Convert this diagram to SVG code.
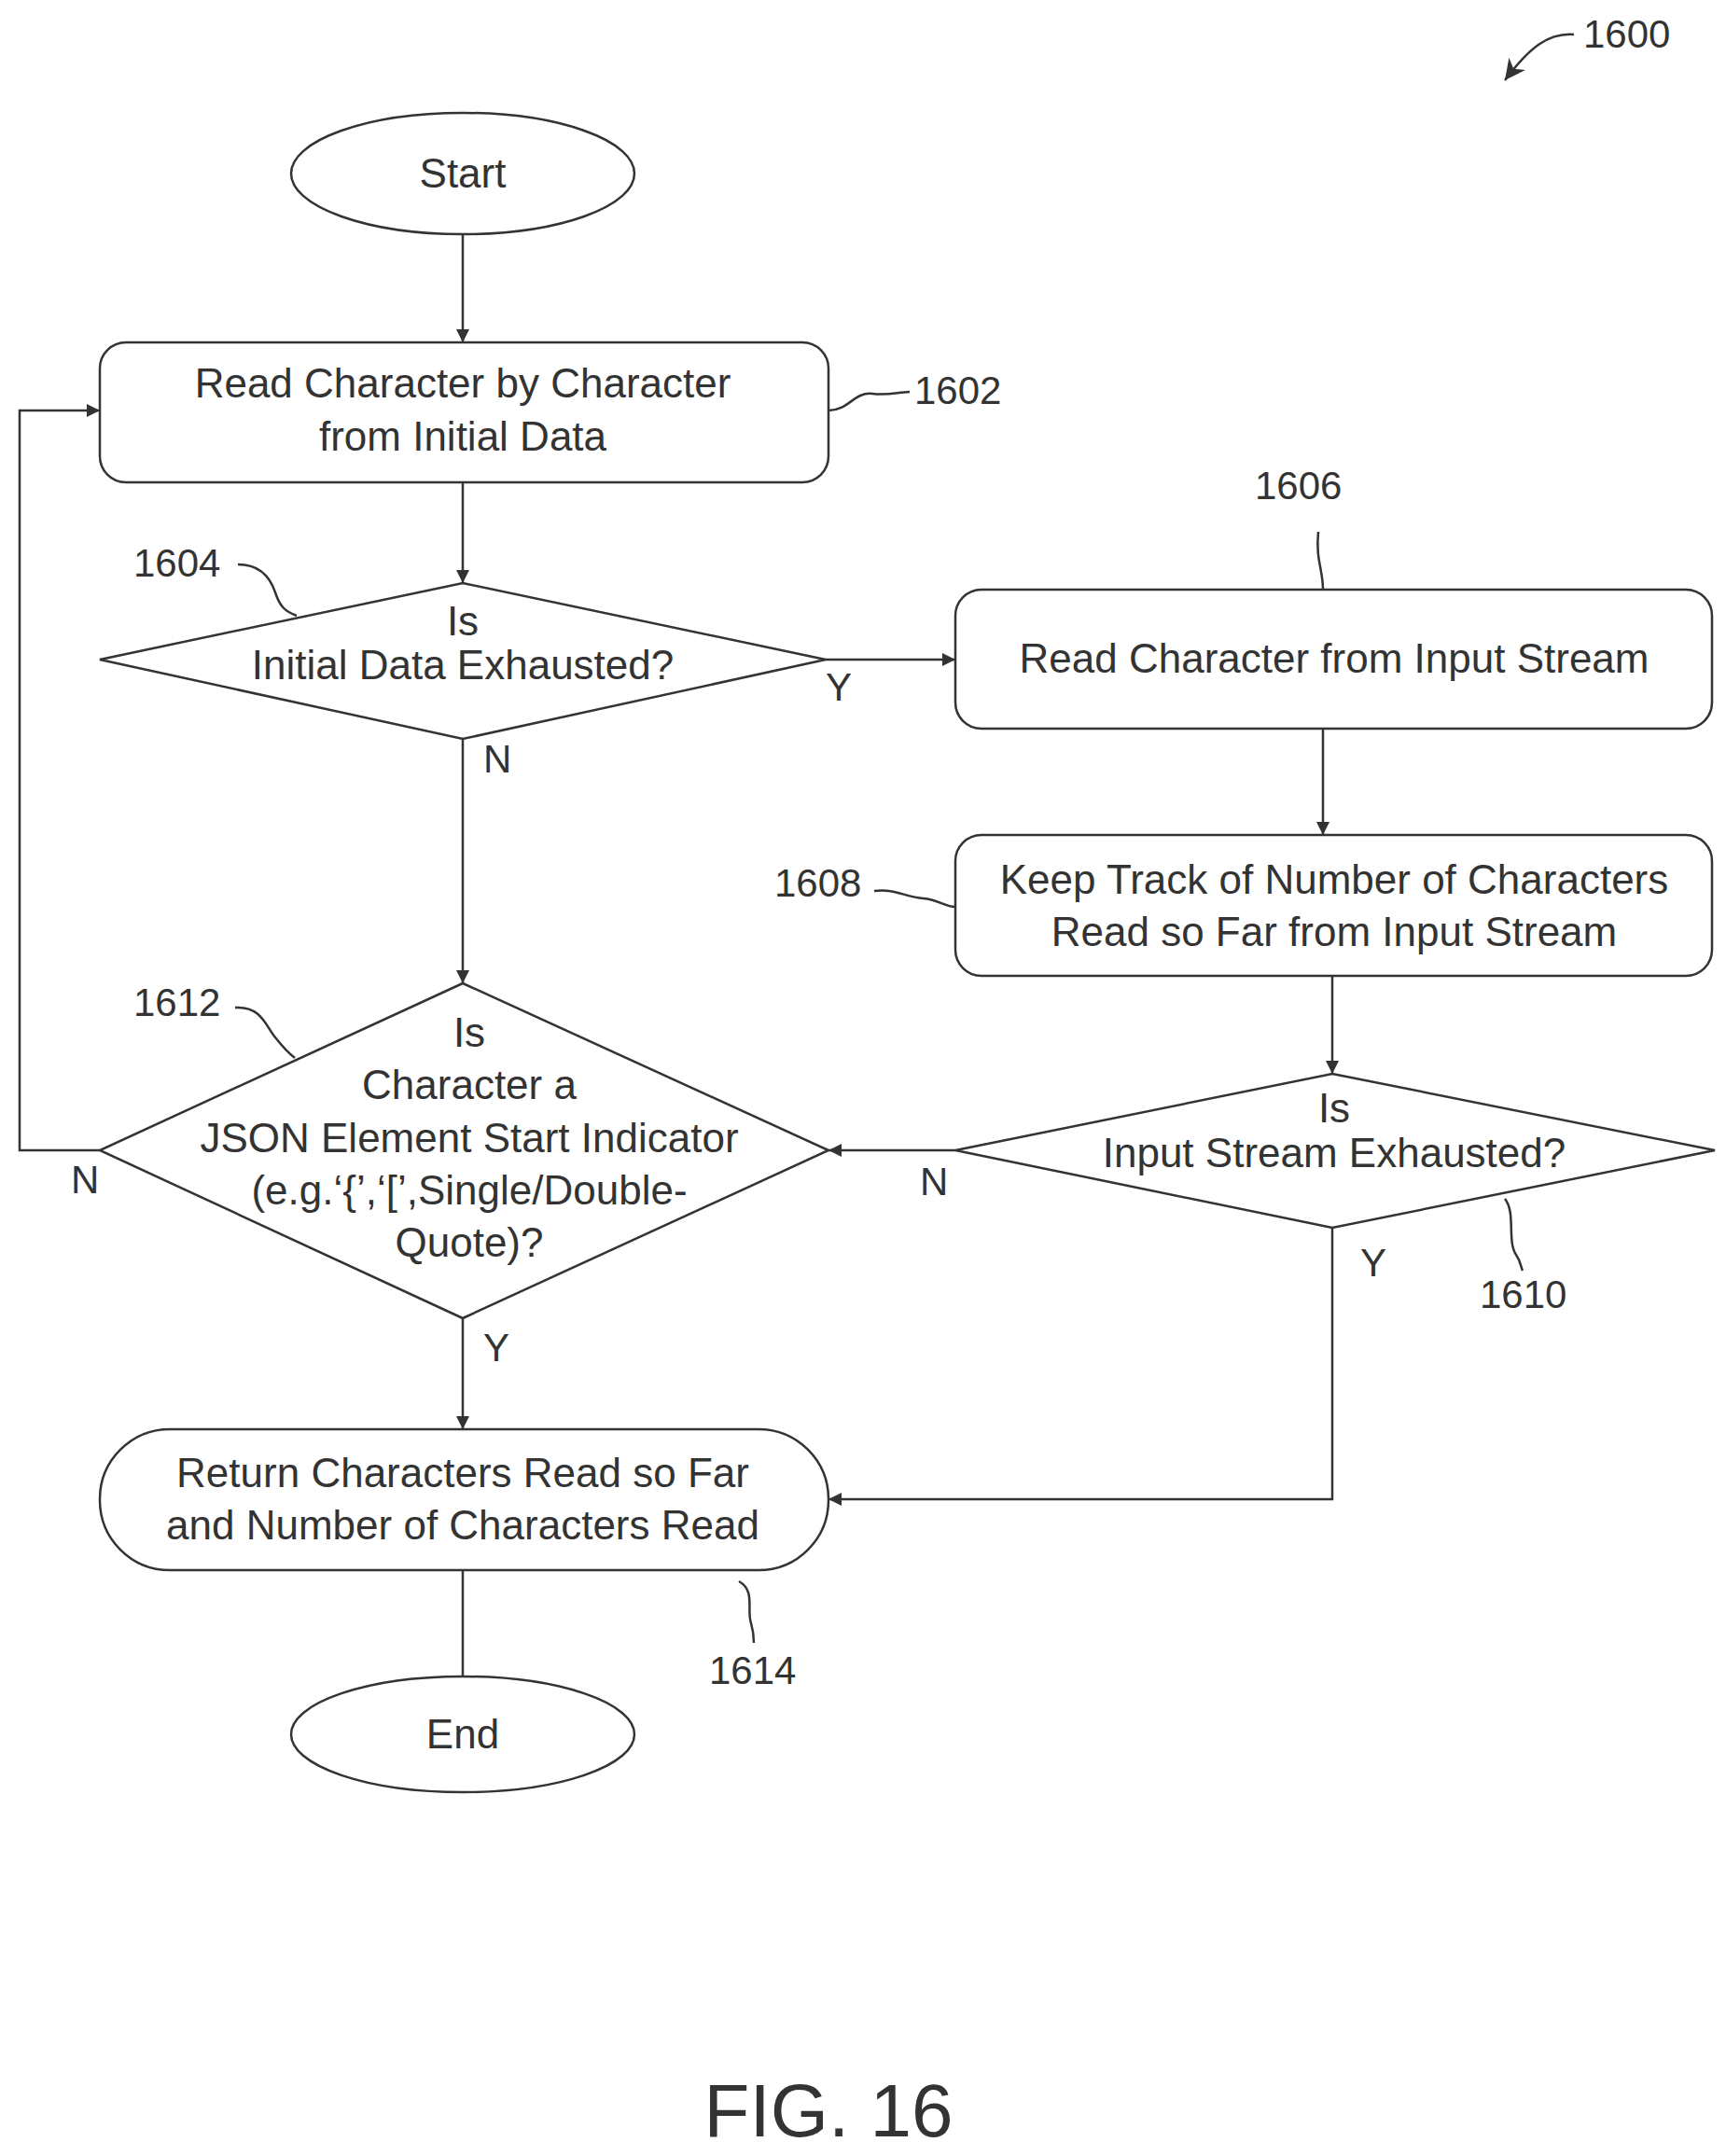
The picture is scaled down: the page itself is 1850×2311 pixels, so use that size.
<svg xmlns="http://www.w3.org/2000/svg" width="1850" height="2311" viewBox="0 0 1850 2311">
<style>
.s{fill:#fff;stroke:#333;stroke-width:2.5}
.c{fill:none;stroke:#333;stroke-width:2.5}
.t{font-family:"Liberation Sans",Arial,sans-serif;font-size:44px;fill:#333;text-anchor:middle}
.l{font-family:"Liberation Sans",Arial,sans-serif;font-size:42px;fill:#333}
</style>
<defs><marker id="a" viewBox="0 0 10 10" refX="10" refY="5" markerWidth="16" markerHeight="14" markerUnits="userSpaceOnUse" orient="auto"><path d="M0,0L10,5L0,10z" fill="#333"/></marker>
<marker id="b" viewBox="0 0 10 10" refX="10" refY="5" markerWidth="22" markerHeight="22" markerUnits="userSpaceOnUse" orient="auto"><path d="M0,0L10,5L0,10L3,5z" fill="#333"/></marker></defs>
<rect width="1850" height="2311" fill="#fff"/>
<g id="connectors">
<line class="c" x1="496" y1="251" x2="496" y2="367" marker-end="url(#a)"/>
<line class="c" x1="496" y1="517" x2="496" y2="625" marker-end="url(#a)"/>
<line class="c" x1="885" y1="707" x2="1024" y2="707" marker-end="url(#a)"/>
<line class="c" x1="1418" y1="781" x2="1418" y2="895" marker-end="url(#a)"/>
<line class="c" x1="1428" y1="1046" x2="1428" y2="1151" marker-end="url(#a)"/>
<line class="c" x1="1024" y1="1233" x2="888" y2="1233" marker-end="url(#a)"/>
<polyline class="c" points="1428,1316 1428,1607 888,1607" marker-end="url(#a)"/>
<line class="c" x1="496" y1="792" x2="496" y2="1054" marker-end="url(#a)"/>
<polyline class="c" points="107,1233 21,1233 21,440 107,440" marker-end="url(#a)"/>
<line class="c" x1="496" y1="1413" x2="496" y2="1532" marker-end="url(#a)"/>
<line class="c" x1="496" y1="1683" x2="496" y2="1828" marker-end="url(#a)"/>
<text class="l" x="885" y="751">Y</text>
<text class="l" x="986" y="1281">N</text>
<text class="l" x="1458" y="1368">Y</text>
<text class="l" x="518" y="828">N</text>
<text class="l" x="76" y="1279">N</text>
<text class="l" x="518" y="1459">Y</text>
</g>
<g id="start"><ellipse class="s" cx="496" cy="186" rx="184" ry="65"/><text class="t" x="496" y="201">Start</text></g>
<g id="n1602"><rect class="s" x="107" y="367" width="781" height="150" rx="28"/>
<text class="t" x="496" y="426">Read Character by Character</text><text class="t" x="496" y="483">from Initial Data</text>
<path class="c" d="M888,440 C910,440 915,420 935,422 C950,424 960,421 975,420"/><text class="l" x="980" y="433">1602</text></g>
<g id="n1604"><polygon class="s" points="496,625 885,707 496,792 107,707"/>
<text class="t" x="496" y="681">Is</text><text class="t" x="496" y="728">Initial Data Exhausted?</text>
<path class="c" d="M255,605 C280,605 290,620 295,635 C300,650 305,655 318,660"/><text class="l" x="143" y="618">1604</text></g>
<g id="n1606"><rect class="s" x="1024" y="632" width="811" height="149" rx="28"/>
<text class="t" x="1430" y="721">Read Character from Input Stream</text>
<path class="c" d="M1418,632 C1418,610 1410,600 1413,570"/><text class="l" x="1345" y="535">1606</text></g>
<g id="n1608"><rect class="s" x="1024" y="895" width="811" height="151" rx="28"/>
<text class="t" x="1430" y="958">Keep Track of Number of Characters</text><text class="t" x="1430" y="1014">Read so Far from Input Stream</text>
<path class="c" d="M937,955 C960,952 970,962 990,963 C1005,964 1012,972 1024,972"/><text class="l" x="830" y="961">1608</text></g>
<g id="n1610"><polygon class="s" points="1428,1151 1838,1233 1428,1316 1024,1233"/>
<text class="t" x="1430" y="1203">Is</text><text class="t" x="1430" y="1251">Input Stream Exhausted?</text>
<path class="c" d="M1613,1285 C1625,1300 1615,1330 1625,1345 C1630,1352 1630,1358 1632,1362"/><text class="l" x="1586" y="1402">1610</text></g>
<g id="n1612"><polygon class="s" points="496,1054 888,1233 496,1413 107,1233"/>
<text class="t" x="503" y="1122">Is</text><text class="t" x="503" y="1178">Character a</text><text class="t" x="503" y="1235">JSON Element Start Indicator</text><text class="t" x="503" y="1291">(e.g.‘{’,‘[’,Single/Double-</text><text class="t" x="503" y="1347">Quote)?</text>
<path class="c" d="M252,1080 C280,1078 285,1100 295,1112 C303,1122 308,1128 316,1134"/><text class="l" x="143" y="1089">1612</text></g>
<g id="n1614"><rect class="s" x="107" y="1532" width="781" height="151" rx="75"/>
<text class="t" x="496" y="1594">Return Characters Read so Far</text><text class="t" x="496" y="1650">and Number of Characters Read</text>
<path class="c" d="M792,1695 C810,1705 800,1725 805,1740 C808,1750 808,1756 808,1761"/><text class="l" x="760" y="1805">1614</text></g>
<g id="end"><ellipse class="s" cx="496" cy="1859" rx="184" ry="62"/><text class="t" x="496" y="1874">End</text></g>
<g id="labels">
<text class="l" x="1697" y="51">1600</text>
<path class="c" d="M1687,37 C1660,35 1640,50 1613,86" marker-end="url(#b)"/>
<text class="t" x="888" y="2290" style="font-size:80px">FIG. 16</text>
</g>
</svg>
